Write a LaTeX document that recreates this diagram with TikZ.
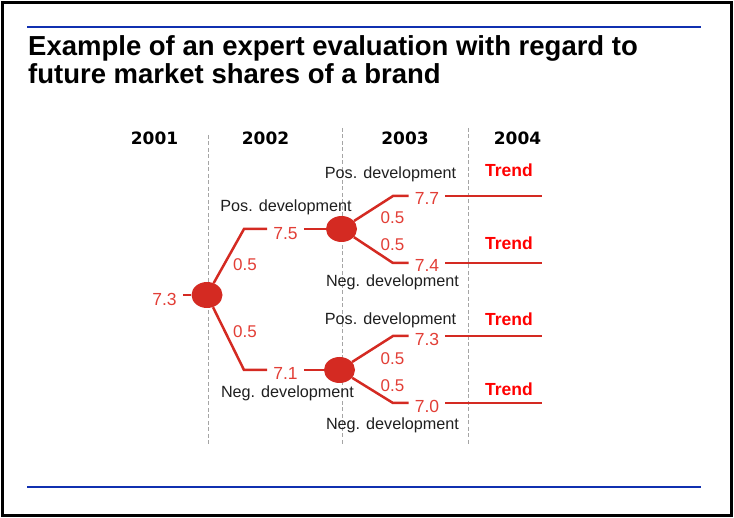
\documentclass[tikz,border=0pt]{standalone}
\usepackage{fontspec}
\setmainfont{Liberation Sans}
\newfontfamily\yearfont{DejaVu Sans}
\usetikzlibrary{shapes.geometric}

\definecolor{treered}{RGB}{212,42,34}
\definecolor{numred}{RGB}{226,62,54}
\definecolor{trendred}{RGB}{255,0,0}
\definecolor{ruleblue}{RGB}{16,48,176}
\definecolor{divgray}{RGB}{165,165,165}

\begin{document}
\begin{tikzpicture}[x=1pt,y=-1pt,
   chance/.style={ellipse,fill=treered,inner sep=0pt,minimum width=31pt,minimum height=26pt},
   branch/.style={treered,line width=2.5pt},
   val/.style={text=numred,font=\fontsize{17.5}{20}\selectfont,anchor=base,inner sep=0pt,inner xsep=6pt},
   prob/.style={text=numred,font=\fontsize{17}{20}\selectfont,inner sep=0pt},
   dev/.style={text=black!88,font=\fontsize{16.2}{18}\selectfont,anchor=base,inner sep=0pt},
   trend/.style={text=trendred,font=\bfseries\fontsize{17.5}{18}\selectfont,anchor=base,inner sep=0pt},
   year/.style={font=\yearfont\bfseries\fontsize{17}{20}\selectfont,anchor=base,inner sep=0pt},
   headline/.style={anchor=base west,inner sep=0pt,font=\bfseries\fontsize{27.5}{30}\selectfont},
   divider/.style={divgray,line width=0.8pt,dash pattern=on 4pt off 2.5pt}]

   \useasboundingbox (0,0) rectangle (734,518);

   % Frame and rules
      \draw[line width=2.5pt] (2.5,2.5) rectangle (731.5,515.5);
      \draw[ruleblue,line width=2pt] (27,27) -- (701,27);
      \draw[ruleblue,line width=2pt] (27,487) -- (701,487);

   % Title
      \node[headline] (title1) at (28,56) {Example of an expert evaluation with regard to};
      \node[headline] (title2) at (28,84) {future market shares of a brand};

   % Years
      \node[year] (y1) at (154.5,145) {2001};
      \node[year] (y2) at (265.5,145) {2002};
      \node[year] (y3) at (405,145)   {2003};
      \node[year] (y4) at (517.5,145) {2004};

   % Dividers
      \draw[divider] (208,135) -- (208,444);
      \draw[divider] (342,128) -- (342,444);
      \draw[divider] (468,128) -- (468,444);

   % Chance nodes
      \node[chance] (n0) at (207,295)   {};
      \node[chance] (n1) at (341.5,229) {};
      \node[chance] (n2) at (339.5,370) {};

   % Corners
      \coordinate (c1) at (244,229);
      \coordinate (c2) at (244,370);
      \coordinate (c3) at (393,196);
      \coordinate (c4) at (393,263);
      \coordinate (c5) at (393,336);
      \coordinate (c6) at (393,403);
      \coordinate (e1) at (542,196);
      \coordinate (e2) at (542,263);
      \coordinate (e3) at (542,336);
      \coordinate (e4) at (542,403);

   % Values
      \node[val] (v73)  at (164.5,306) {7.3};
      \node[val] (v75)  at (285.5,240) {7.5};
      \node[val] (v71)  at (285.5,380) {7.1};
      \node[val] (v77)  at (427,205)   {7.7};
      \node[val] (v74)  at (427,272)   {7.4};
      \node[val] (v73b) at (427,346)   {7.3};
      \node[val] (v70)  at (427,413)   {7.0};

   % Probabilities
      \node[prob] (p1) at (245,265)   {0.5};
      \node[prob] (p2) at (245,332)   {0.5};
      \node[prob] (p3) at (392.5,218) {0.5};
      \node[prob] (p4) at (392.5,245) {0.5};
      \node[prob] (p5) at (392.5,359) {0.5};
      \node[prob] (p6) at (392.5,386) {0.5};

   % Developments
      \node[dev] (d1) at (286,212)   {Pos. development};
      \node[dev] (d2) at (287.5,398) {Neg. development};
      \node[dev] (d3) at (390.5,179) {Pos. development};
      \node[dev] (d4) at (392.5,287) {Neg. development};
      \node[dev] (d5) at (390.5,325) {Pos. development};
      \node[dev] (d6) at (392.5,430) {Neg. development};

   % Trends
      \node[trend] (t1) at (509,177) {Trend};
      \node[trend] (t2) at (509,250) {Trend};
      \node[trend] (t3) at (509,326) {Trend};
      \node[trend] (t4) at (509,396) {Trend};

   % Branches
      \draw[branch] (v73.east |- n0) -- (n0);
      \draw[branch] (n0) -- (c1) -- (c1 -| v75.west);
      \draw[branch] (n0) -- (c2) -- (c2 -| v71.west);
      \draw[branch] (v75.east |- n1) -- (n1);
      \draw[branch] (v71.east |- n2) -- (n2);
      \draw[branch] (n1) -- (c3) -- (c3 -| v77.west);
      \draw[branch] (n1) -- (c4) -- (c4 -| v74.west);
      \draw[branch] (n2) -- (c5) -- (c5 -| v73b.west);
      \draw[branch] (n2) -- (c6) -- (c6 -| v70.west);
      \draw[branch] (v77.east |- c3)  -- (e1);
      \draw[branch] (v74.east |- c4)  -- (e2);
      \draw[branch] (v73b.east |- c5) -- (e3);
      \draw[branch] (v70.east |- c6)  -- (e4);
\end{tikzpicture}
\end{document}
